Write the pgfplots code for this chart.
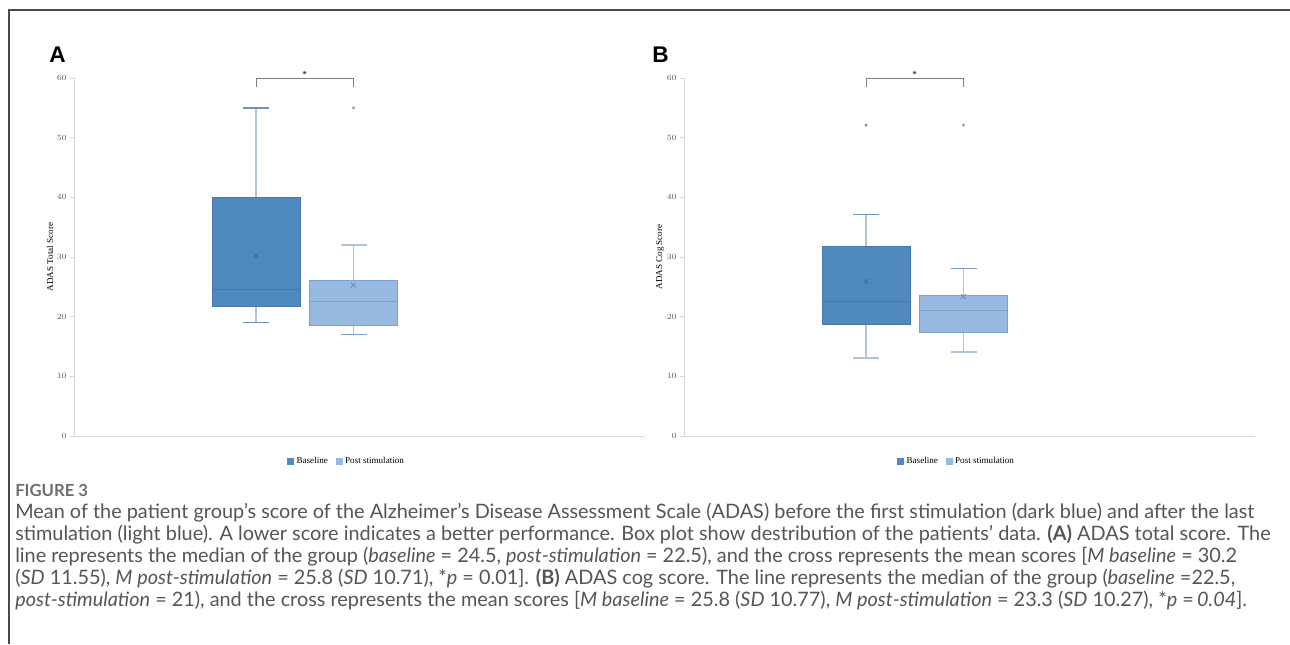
\documentclass[border=0pt]{standalone}
\usepackage{fontspec}
\setmainfont{Liberation Serif}
\newfontfamily\lato{Lato}
\newfontfamily\arialb{Liberation Sans}
\usepackage{pgfplots}
\pgfplotsset{compat=1.18}

\definecolor{dkbox}{HTML}{4F89BD}
\definecolor{ltbox}{HTML}{98B9E0}
\definecolor{dkedge}{HTML}{4677AA}
\definecolor{ltedge}{HTML}{7C9FCB}
\definecolor{whisk}{HTML}{B0C5DC}
\definecolor{axgray}{HTML}{D9D9D9}
\definecolor{tickgray}{HTML}{595959}
\definecolor{brgray}{HTML}{7F7F7F}
\definecolor{capgray}{HTML}{555555}
\definecolor{framegray}{HTML}{4A4A4A}

\pgfplotsset{
  panel/.style={
    anchor=south west,
    scale only axis,
    width=428.25pt, height=268.5pt,
    xmin=0, xmax=571, ymin=0, ymax=60,
    axis lines=left,
    axis line style={axgray, -, line width=0.6pt},
    ytick={0,10,...,60}, xtick=\empty,
    ytick style={axgray, line width=0.5pt},
    major tick length=3pt,
    tick align=outside,
    yticklabel style={font=\fontsize{5.6}{6}\selectfont, text=tickgray, xshift=1pt},
    ylabel style={font=\fontsize{6.8}{8}\selectfont, at={(axis description cs:-0.042,0.5)}, anchor=center},
    clip=false,
    legend style={at={(axis description cs:0.478,-0.07)}, anchor=center, draw=none, fill=none,
      legend columns=2, font=\fontsize{6.8}{8}\selectfont,
      /tikz/every even column/.append style={column sep=4pt},
      inner sep=0pt},
  },
  wh/.style={forget plot, draw=whisk, line width=1.4pt},
  cp/.style={forget plot, draw=#1, line width=1.1pt},
  bxs/.style={forget plot, fill=#1box, draw=#1edge, line width=0.5pt},
  md/.style={forget plot, draw=#1edge, line width=0.6pt},
  mn/.style={forget plot, only marks, mark=x, mark size=2.5pt, mark options={draw=#1edge!85!black, line width=0.5pt}},
}

\begin{document}
\begin{tikzpicture}

\begin{scope}[x=0.75pt, y=-0.75pt]
\draw[framegray, line width=1.1pt] (9,644) -- (9,10) -- (1290,10);
\node[font=\arialb\bfseries\fontsize{17}{20}\selectfont, anchor=base west, inner sep=0] at (49,62) {A};
\node[font=\arialb\bfseries\fontsize{17}{20}\selectfont, anchor=base west, inner sep=0] at (652,62) {B};
\end{scope}

% ---------------- Panel A ----------------
\begin{axis}[panel, at={(55.5pt,-327pt)}, ylabel={ADAS Total Score}]
% Baseline: lw 19.05, q1 21.8, med 24.6, q3 40.05, uw 55, mean 30.2
\addplot[wh] coordinates {(182,40.05) (182,55)};
\addplot[wh] coordinates {(182,19.05) (182,21.8)};
\addplot[bxs=dk] coordinates {(138,21.8) (226,21.8) (226,40.05) (138,40.05) (138,21.8)};
\addplot[md=dk] coordinates {(138,24.6) (226,24.6)};
\addplot[mn=dk] coordinates {(182,30.2)};
\addplot[cp=ltedge!70!dkedge] coordinates {(169,55) (195,55)};
\addplot[cp=ltedge!70!dkedge] coordinates {(169,19.05) (195,19.05)};
% Post: lw 17, q1 18.5, med 22.6, q3 26.1, uw 32, mean 25.3, outlier 55
\addplot[wh] coordinates {(279.5,26.1) (279.5,32)};
\addplot[wh] coordinates {(279.5,17) (279.5,18.5)};
\addplot[bxs=lt] coordinates {(235.5,18.5) (323.5,18.5) (323.5,26.1) (235.5,26.1) (235.5,18.5)};
\addplot[md=lt] coordinates {(235.5,22.6) (323.5,22.6)};
\addplot[mn=lt] coordinates {(279.5,25.3)};
\addplot[cp=whisk] coordinates {(266.5,32) (292.5,32)};
\addplot[cp=ltedge] coordinates {(266.5,17) (292.5,17)};
\addplot[forget plot, only marks, mark=*, mark size=0.9pt, color=ltedge] coordinates {(279.5,55)};
% significance
\addplot[forget plot, brgray, line width=0.5pt] coordinates {(182,58.5) (182,60) (279.5,60) (279.5,58.5)};
\node[font=\fontsize{7}{8}\selectfont, anchor=center, inner sep=0] at (axis cs:230.75,60.6) {*};
\addlegendimage{legend image code/.code={\fill[dkbox] (0pt,-2.3pt) rectangle (4.6pt,2.3pt);}}
\addlegendentry{Baseline}
\addlegendimage{legend image code/.code={\fill[ltbox] (0pt,-2.3pt) rectangle (4.6pt,2.3pt);}}
\addlegendentry{Post stimulation}
\end{axis}

% ---------------- Panel B ----------------
\begin{axis}[panel, at={(513pt,-327pt)}, ylabel={ADAS Cog Score}]
% Baseline: lw 13.1, q1 18.8, med 22.6, q3 31.8, uw 37.1, mean 25.9, outlier 52.1
\addplot[wh] coordinates {(182,31.8) (182,37.1)};
\addplot[wh] coordinates {(182,13.1) (182,18.8)};
\addplot[bxs=dk] coordinates {(138,18.8) (226,18.8) (226,31.8) (138,31.8) (138,18.8)};
\addplot[md=dk] coordinates {(138,22.6) (226,22.6)};
\addplot[mn=dk] coordinates {(182,25.9)};
\addplot[cp=ltedge!70!dkedge] coordinates {(169,37.1) (195,37.1)};
\addplot[cp=whisk] coordinates {(169,13.1) (195,13.1)};
% Post: lw 14.1, q1 17.3, med 21.1, q3 23.6, uw 28.1, mean 23.4, outlier 52.1
\addplot[wh] coordinates {(279.5,23.6) (279.5,28.1)};
\addplot[wh] coordinates {(279.5,14.1) (279.5,17.3)};
\addplot[bxs=lt] coordinates {(235.5,17.3) (323.5,17.3) (323.5,23.6) (235.5,23.6) (235.5,17.3)};
\addplot[md=lt] coordinates {(235.5,21.1) (323.5,21.1)};
\addplot[mn=lt] coordinates {(279.5,23.4)};
\addplot[cp=ltedge] coordinates {(266.5,28.1) (292.5,28.1)};
\addplot[cp=whisk] coordinates {(266.5,14.1) (292.5,14.1)};
\addplot[forget plot, only marks, mark=*, mark size=0.9pt, color=dkbox] coordinates {(182,52.1)};
\addplot[forget plot, only marks, mark=*, mark size=0.9pt, color=ltedge] coordinates {(279.5,52.1)};
% significance
\addplot[forget plot, brgray, line width=0.5pt] coordinates {(182,58.5) (182,60) (279.5,60) (279.5,58.5)};
\node[font=\fontsize{7}{8}\selectfont, anchor=center, inner sep=0] at (axis cs:230.75,60.6) {*};
\addlegendimage{legend image code/.code={\fill[dkbox] (0pt,-2.3pt) rectangle (4.6pt,2.3pt);}}
\addlegendentry{Baseline}
\addlegendimage{legend image code/.code={\fill[ltbox] (0pt,-2.3pt) rectangle (4.6pt,2.3pt);}}
\addlegendentry{Post stimulation}
\end{axis}

% ---------------- Caption ----------------
\begin{scope}[x=0.75pt, y=-0.75pt, every node/.style={anchor=base west, inner sep=0, text=capgray, font=\lato\fontsize{14.9}{17}\selectfont}]
\node[font=\lato\bfseries\fontsize{12.5}{14}\selectfont, text=capgray!85] at (15,496) {FIGURE 3};
\node at (15,518) {Mean of the patient group’s score of the Alzheimer’s Disease Assessment Scale (ADAS) before the first stimulation (dark blue) and after the last};
\node at (15,540) {stimulation (light blue). A lower score indicates a better performance. Box plot show destribution of the patients’ data. \textbf{(A)} ADAS total score. The};
\node at (15,562) {line represents the median of the group (\textit{baseline} = 24.5, \textit{post-stimulation} = 22.5), and the cross represents the mean scores [\textit{M baseline} = 30.2};
\node at (15,584) {(\textit{SD} 11.55), \textit{M post-stimulation} = 25.8 (\textit{SD} 10.71), *\textit{p} = 0.01]. \textbf{(B)} ADAS cog score. The line represents the median of the group (\textit{baseline} =22.5,};
\node at (15,606) {\textit{post-stimulation} = 21), and the cross represents the mean scores [\textit{M baseline} = 25.8 (\textit{SD} 10.77), \textit{M post-stimulation} = 23.3 (\textit{SD} 10.27), *\textit{p} =\,\textit{0.04}].};
\end{scope}

\pgfresetboundingbox
\useasboundingbox (0,0) rectangle (967.5pt,-483pt);
\end{tikzpicture}
\end{document}
